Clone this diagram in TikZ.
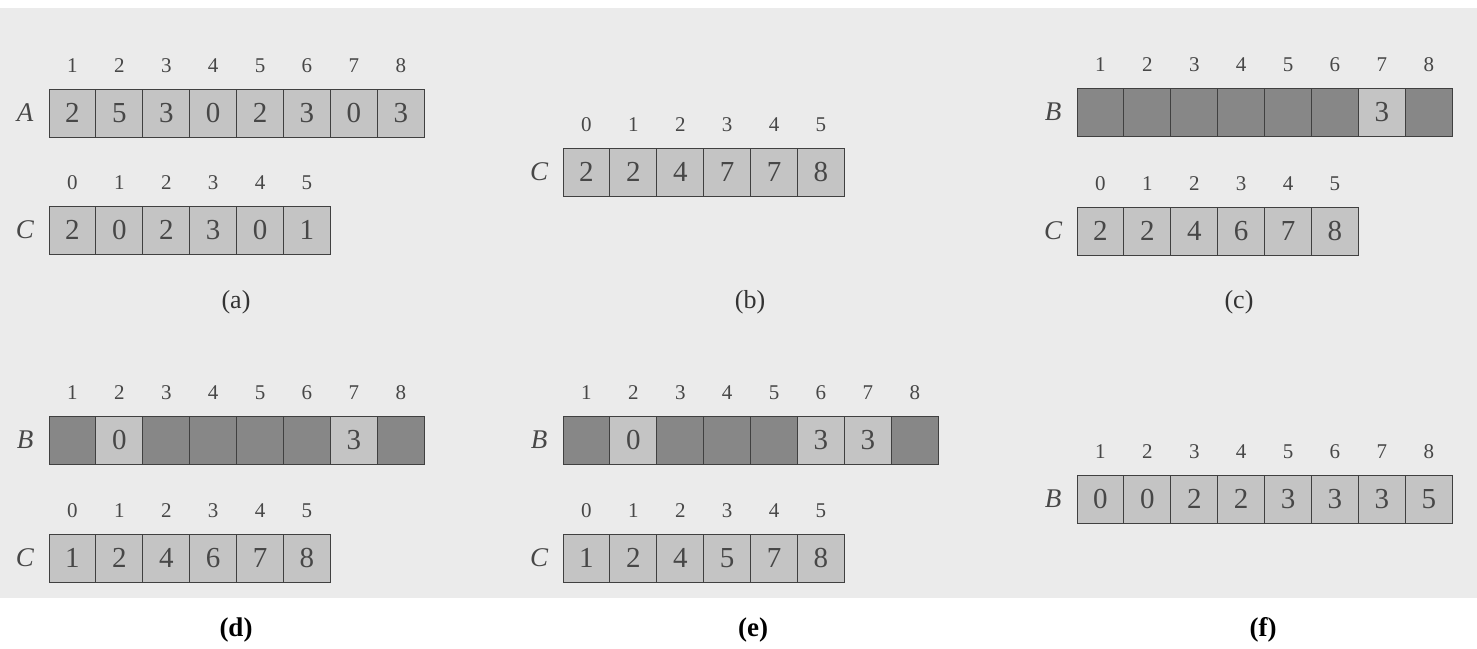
\documentclass[tikz,border=0pt]{standalone}
\usepackage{fontspec}
\setmainfont{Liberation Serif}
\definecolor{bgg}{gray}{0.92}
\definecolor{liteg}{gray}{0.77}
\definecolor{darkg}{gray}{0.53}
\tikzset{
  cell/.style={draw=black!75, line width=0.5pt, minimum width=23.45pt, minimum height=24pt,
    inner sep=0pt, text=black!72, font=\fontsize{14.5}{15}\selectfont},
  idx/.style={inner sep=0pt, text=black!72, font=\fontsize{10.5}{10.5}\selectfont},
  lab/.style={inner sep=0pt, text=black!72, font=\fontsize{13.5}{14}\selectfont\itshape},
  captxt/.style={inner sep=0pt, text=black!80, font=\fontsize{13}{13}\selectfont},
  captxtb/.style={inner sep=0pt, text=black, font=\fontsize{13.5}{13.5}\selectfont\bfseries},
}
% #1 name, #2 left x, #3 top y, #4 first index, #5 list value/colour, #6 letter
\newcommand{\mkrow}[6]{%
  \foreach [count=\k from 0] \v/\s in {#5} {%
    \pgfmathsetmacro\cx{#2+46.9*(\k+0.5)}%
    \pgfmathtruncatemacro\ix{#4+\k}%
    \node[cell, fill=\s] (#1-\k) at (\cx,#3+24) {\v};%
    \node[idx] (#1-i\k) at (\cx,#3-23) {\ix};%
  }%
  \node[lab] (#1-lab) at (#2-24,#3+24) {#6};%
}
\begin{document}
\begin{tikzpicture}[x=0.5pt, y=-0.5pt]
\useasboundingbox (0,0) rectangle (1477,648);
\fill[bgg] (0,8) rectangle (1477,598);
% (a)
\mkrow{a1}{49}{89}{1}{2/liteg,5/liteg,3/liteg,0/liteg,2/liteg,3/liteg,0/liteg,3/liteg}{A}
\mkrow{a2}{49}{206}{0}{2/liteg,0/liteg,2/liteg,3/liteg,0/liteg,1/liteg}{C}
\node[captxt] (capa) at (236,302) {(a)};
% (b)
\mkrow{b1}{563}{148}{0}{2/liteg,2/liteg,4/liteg,7/liteg,7/liteg,8/liteg}{C}
\node[captxt] (capb) at (750,302) {(b)};
% (c)
\mkrow{c1}{1077}{88}{1}{/darkg,/darkg,/darkg,/darkg,/darkg,/darkg,3/liteg,/darkg}{B}
\mkrow{c2}{1077}{207}{0}{2/liteg,2/liteg,4/liteg,6/liteg,7/liteg,8/liteg}{C}
\node[captxt] (capc) at (1239,302) {(c)};
% (d)
\mkrow{d1}{49}{416}{1}{/darkg,0/liteg,/darkg,/darkg,/darkg,/darkg,3/liteg,/darkg}{B}
\mkrow{d2}{49}{534}{0}{1/liteg,2/liteg,4/liteg,6/liteg,7/liteg,8/liteg}{C}
\node[captxtb] (capd) at (236,630) {(d)};
% (e)
\mkrow{e1}{563}{416}{1}{/darkg,0/liteg,/darkg,/darkg,/darkg,3/liteg,3/liteg,/darkg}{B}
\mkrow{e2}{563}{534}{0}{1/liteg,2/liteg,4/liteg,5/liteg,7/liteg,8/liteg}{C}
\node[captxtb] (cape) at (753,630) {(e)};
% (f)
\mkrow{f1}{1077}{475}{1}{0/liteg,0/liteg,2/liteg,2/liteg,3/liteg,3/liteg,3/liteg,5/liteg}{B}
\node[captxtb] (capf) at (1263,630) {(f)};
\end{tikzpicture}
\end{document}
